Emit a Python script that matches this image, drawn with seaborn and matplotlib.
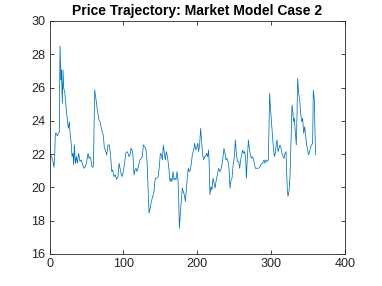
import numpy as np
import pandas as pd
import seaborn as sns
import matplotlib
matplotlib.use("Agg")
import matplotlib.pyplot as plt

# valores (tempo, preço)
t = [1, 1.6, 3.4, 4.7, 6.1, 7.0, 7.9, 9.2, 10.6, 12.4, 13.3, 14.2, 15.6, 16.0, 17.4,
     18.3, 19.2, 20.5, 21.9, 23.2, 24.6, 25.5, 26.8, 28.2, 29.5, 30.4, 31.8, 32.7, 33.6,
     35.0, 36.3, 37.6, 39.4, 41.2, 43.1, 44.9, 46.7, 48.5, 50.3, 52.1, 53.4, 54.8, 56.1,
     57.5, 59.3, 61.1, 62.4, 64.7, 66.9, 68.3, 70.5, 72.8, 74.2, 75.5, 77.3, 79.1, 80.9,
     82.7, 84.1, 85.4, 87.2, 89.0, 90.8, 92.6, 94.0, 95.3, 96.7, 98.0, 99.8, 101.6, 103.0,
     104.4, 106.2, 107.5, 108.9, 110.2, 111.6, 112.9, 114.3, 115.6, 117.0, 118.3, 119.7,
     121.0, 122.4, 124.2, 125.5, 126.9, 128.7, 130.5, 131.9, 133.2, 134.6, 135.9, 137.7,
     139.5, 141.3, 142.2, 143.1, 144.9, 146.7, 148.5, 149.9, 151.2, 152.6, 153.9, 155.3,
     156.6, 158.0, 159.8, 161.1, 162.9, 164.3, 165.6, 167.0, 168.4, 169.7, 171.1, 172.4,
     173.8, 174.7, 175.6, 176.9, 178.3, 179.6, 181.0, 182.3, 183.7, 185.0, 186.4, 187.7,
     189.1, 190.4, 191.8, 193.1, 194.9, 196.3, 197.7, 199.0, 200.4, 201.7, 203.1, 204.4,
     205.8, 207.1, 208.5, 209.8, 210.7, 212.5, 213.9, 215.2, 216.1, 217.0, 218.4, 219.7,
     221.1, 222.4, 223.8, 225.1, 226.9, 228.7, 230.5, 232.3, 234.1, 235.9, 237.3, 238.7,
     240.0, 241.4, 242.7, 244.1, 245.4, 246.8, 248.1, 249.9, 251.3, 252.6, 254.0, 255.8,
     257.1, 258.5, 259.8, 261.2, 262.5, 263.9, 265.2, 266.2, 267.5, 268.9, 270.2, 271.6,
     272.9, 274.3, 275.6, 277.0, 278.3, 279.7, 281.0, 282.8, 284.6, 286.4, 288.2, 290.0,
     291.4, 292.7, 294.5, 295.9, 296.8, 297.7, 298.6, 299.9, 301.3, 302.6, 304.0, 305.3,
     306.7, 307.6, 309.0, 310.3, 311.7, 313.0, 314.4, 315.7, 317.1, 318.4, 319.8, 320.7,
     321.6, 322.5, 323.8, 325.2, 326.1, 327.0, 327.9, 328.8, 330.1, 331.0, 332.4, 333.7,
     334.6, 335.5, 336.9, 338.3, 339.6, 341.0, 342.3, 343.7, 345.0, 346.4, 347.7, 349.1,
     350.4, 351.8, 353.1, 354.5, 355.8, 356.7, 358.1, 359.0, 359.9]
preco = [21.85, 21.95, 21.75, 21.55, 21.21, 21.85, 23.25, 23.25, 23.09, 23.25, 23.35, 28.5,
         26.46, 27.06, 25.06, 27.06, 25.96, 25.76, 25.06, 24.45, 23.85, 23.55, 23.95, 23.05,
         22.55, 21.85, 22.05, 21.35, 22.55, 21.45, 21.85, 21.45, 22.05, 21.55, 21.65, 21.35,
         21.15, 21.25, 21.55, 22.05, 21.75, 21.85, 21.65, 21.21, 21.25, 25.86, 25.45, 24.65,
         24.05, 23.95, 23.45, 23.1, 22.35, 22.25, 21.95, 22.55, 22.55, 21.85, 20.95, 21.05,
         20.65, 20.75, 20.49, 20.65, 21.45, 21.15, 20.85, 20.65, 20.95, 21.45, 22.05, 22.15,
         22.05, 21.85, 21.95, 22.35, 22.25, 21.85, 20.75, 21.05, 21.15, 20.95, 21.15, 21.45,
         21.65, 21.75, 21.85, 22.55, 22.45, 22.25, 21.55, 20.05, 18.45, 18.75, 19.15, 19.45,
         19.75, 20.25, 20.55, 20.55, 20.61, 21.25, 22.05, 21.95, 21.65, 22.55, 22.05, 21.65,
         22.15, 21.75, 21.25, 20.35, 20.55, 20.35, 20.95, 20.45, 20.55, 20.45, 20.95, 20.45,
         19.25, 17.54, 18.45, 19.25, 19.95, 19.75, 19.55, 19.15, 19.85, 20.65, 21.15, 20.95,
         21.05, 21.45, 21.95, 22.25, 22.65, 22.25, 22.35, 22.65, 22.15, 22.65, 23.55, 22.65,
         21.95, 21.65, 21.85, 21.85, 22.05, 21.85, 22.25, 21.05, 19.55, 20.05, 19.85, 20.55,
         20.25, 19.95, 20.35, 20.75, 21.15, 20.95, 21.15, 21.65, 22.35, 22.05, 21.65, 21.75,
         21.55, 21.15, 19.95, 20.45, 20.55, 21.25, 21.85, 22.85, 22.05, 21.55, 21.55, 21.15,
         21.65, 21.95, 22.25, 22.05, 22.15, 21.75, 20.55, 21.75, 22.85, 22.35, 21.95, 21.75,
         21.85, 21.75, 21.45, 21.15, 21.15, 21.15, 21.15, 21.25, 21.41, 21.45, 21.65, 21.45,
         21.65, 21.55, 21.65, 23.65, 25.65, 24.85, 24.05, 23.15, 22.45, 21.85, 22.05, 22.65,
         22.85, 22.15, 22.35, 22.55, 22.35, 22.05, 21.85, 21.75, 22.05, 22.15, 20.85, 19.85,
         19.45, 19.75, 20.65, 22.05, 23.65, 24.95, 24.65, 23.95, 24.15, 23.35, 22.55, 24.25,
         26.55, 25.65, 25.25, 24.45, 23.95, 24.15, 23.25, 23.65, 23.05, 22.55, 22.25, 21.95,
         22.15, 22.45, 22.55, 22.65, 25.85, 25.25, 23.25, 21.95]

xticks = [0, 100, 200, 300, 400]
yticks = [16, 18, 20, 22, 24, 26, 28, 30]

sns.set_theme(style="white")
plt.rcParams['font.family'] = ['Liberation Sans', 'DejaVu Sans']

fig = plt.figure(figsize=(3.82, 2.86), dpi=100)
ax = fig.add_axes([0.1296, 0.112, 0.7744, 0.8146])

df = pd.DataFrame({"t": t, "preco": preco})
sns.lineplot(data=df, x="t", y="preco", ax=ax, color="#0072BD", linewidth=0.55)

ax.set_xlim(0, 400)
ax.set_ylim(16, 30)
ax.set_xticks(xticks)
ax.set_yticks(yticks)
ax.set_xlabel("")
ax.set_ylabel("")
ax.tick_params(direction="in", length=3, width=0.6, colors="#262626", labelsize=9.1,
               top=True, right=True, bottom=True, left=True, pad=3)
for s in ax.spines.values():
    s.set_visible(True)
    s.set_color("#262626")
    s.set_linewidth(0.6)
ax.set_title("Price Trajectory: Market Model Case 2", fontsize=10, fontweight="bold",
             color="black", pad=4)

fig.savefig("out.png", dpi=100)
